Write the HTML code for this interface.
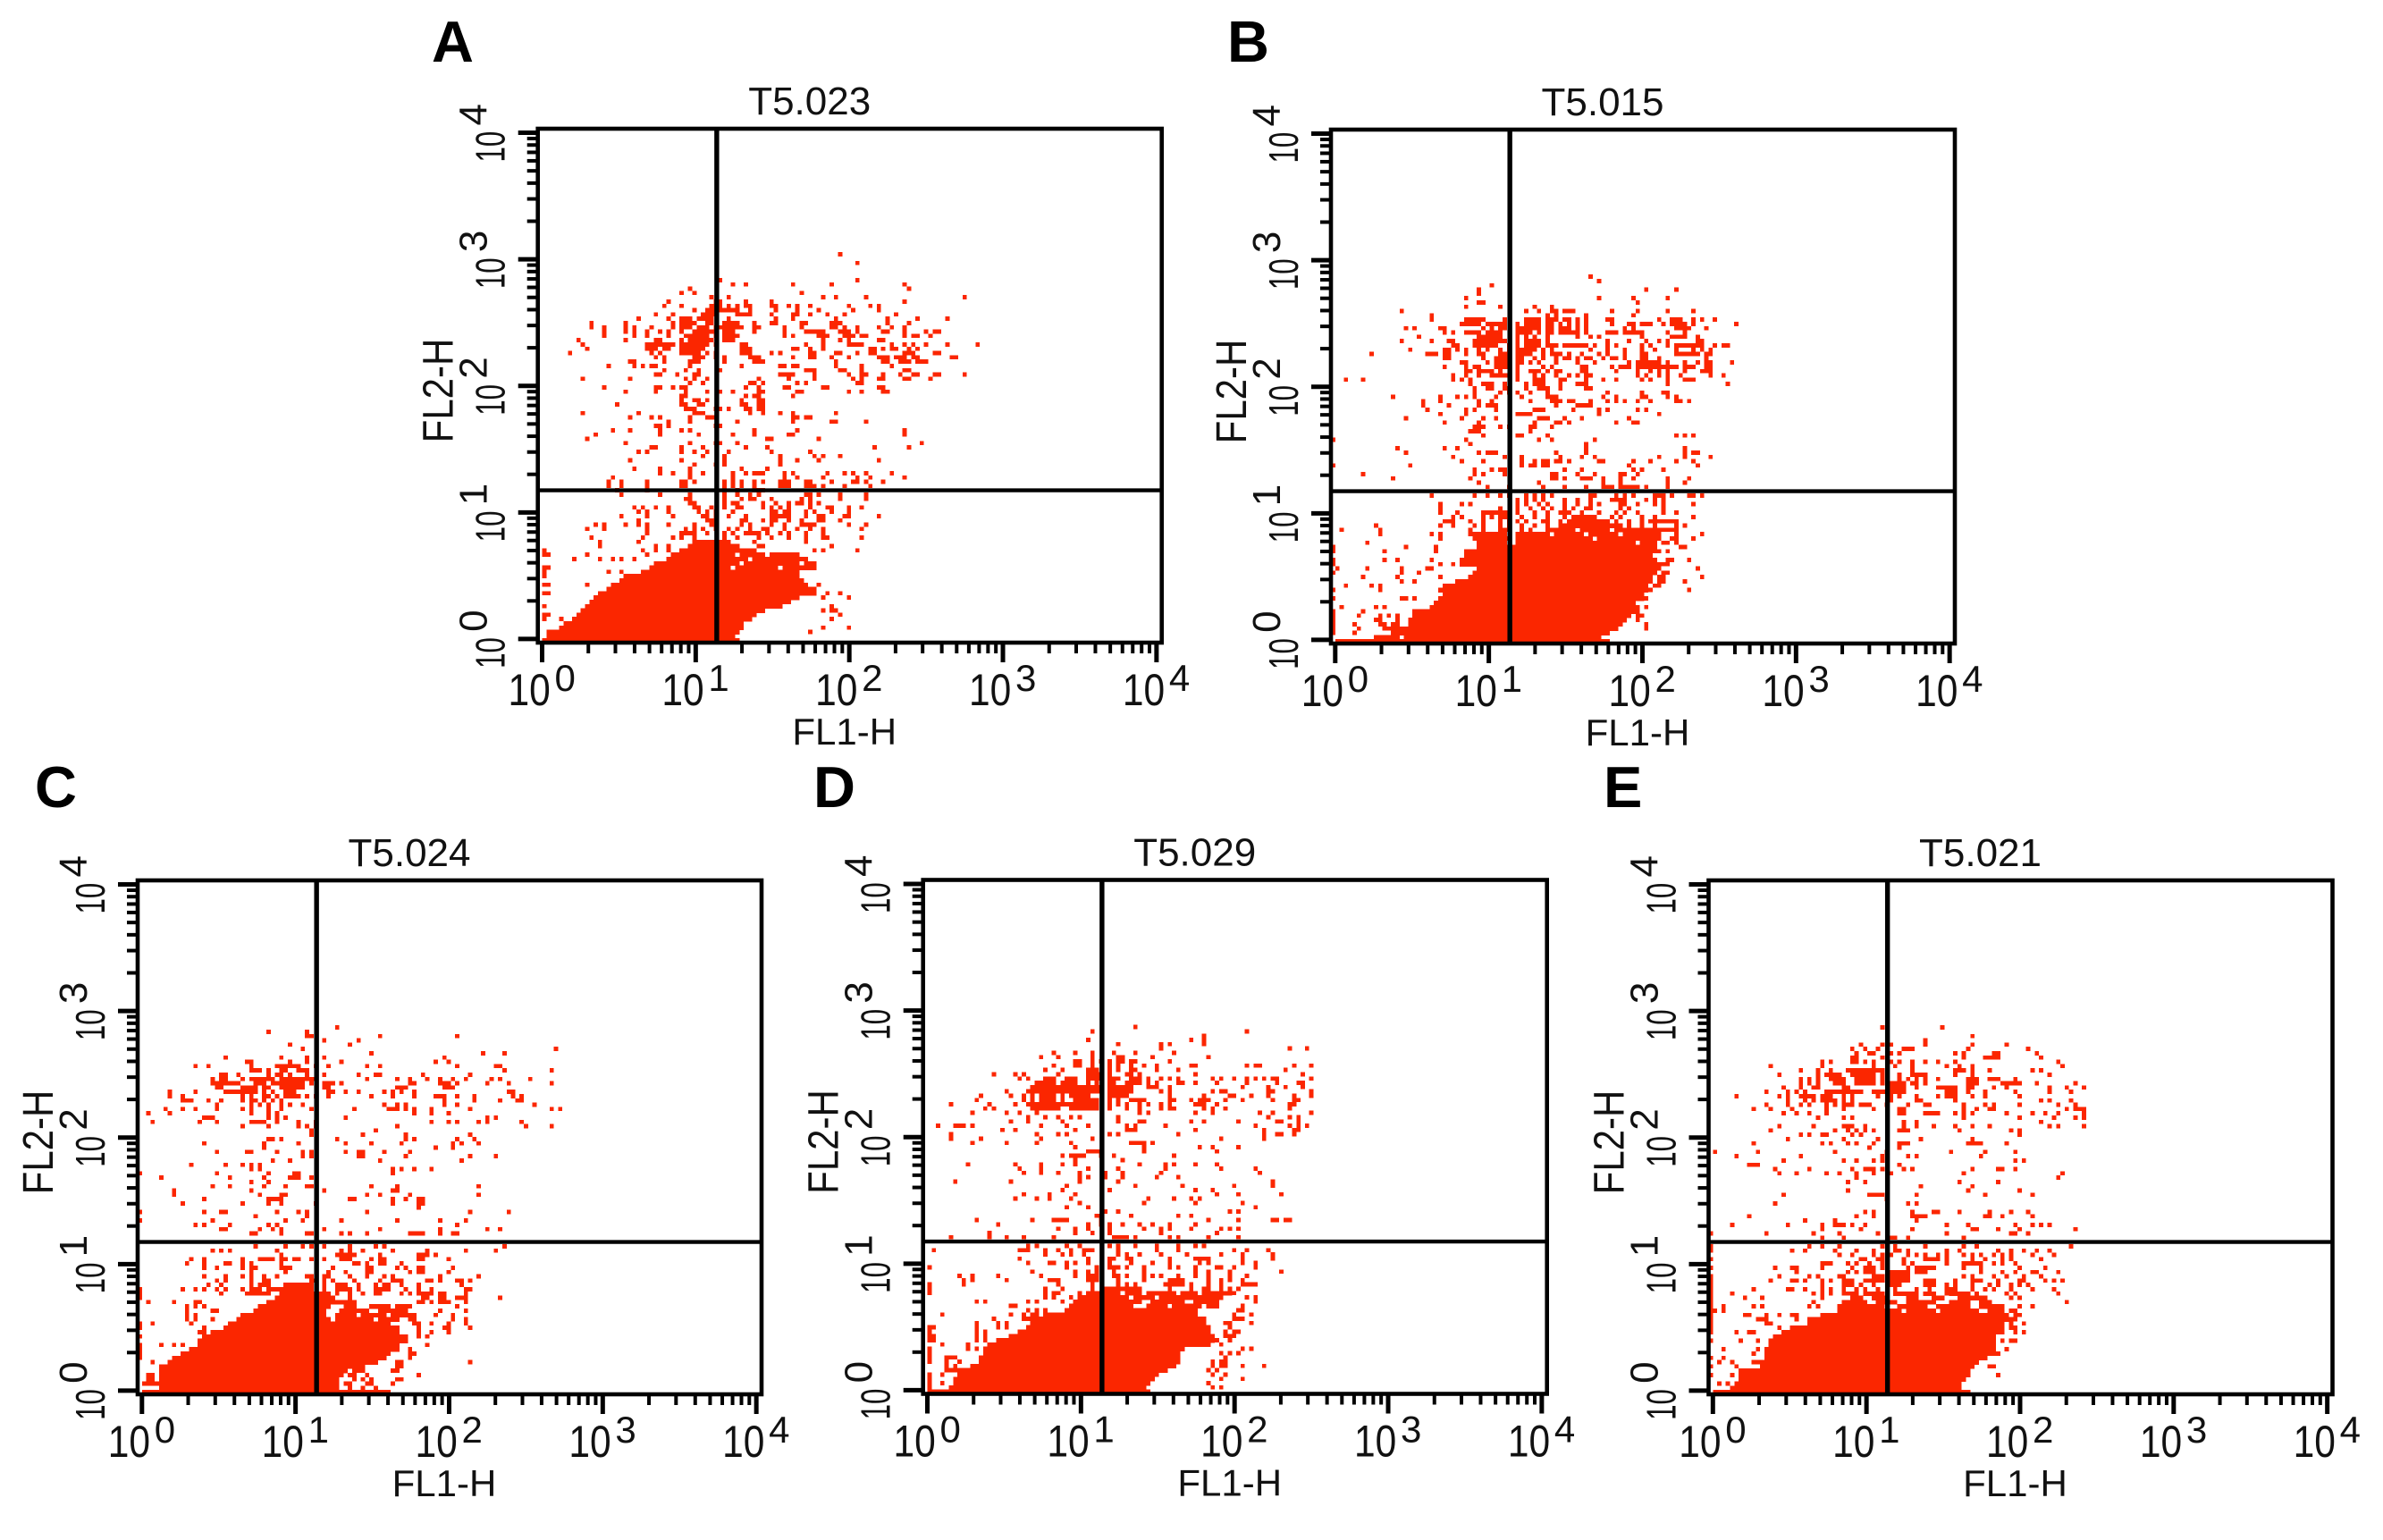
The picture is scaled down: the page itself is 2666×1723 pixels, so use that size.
<!DOCTYPE html>
<html>
<head>
<meta charset="utf-8">
<title>Flow cytometry FL1-H vs FL2-H panels</title>
<style>
html,body{margin:0;padding:0;background:#fff;}
svg{display:block;}
text{font-family:"Liberation Sans",sans-serif;fill:#111;}
</style>
</head>
<body>
<svg id="figure" xmlns="http://www.w3.org/2000/svg" width="2666" height="1723" viewBox="0 0 2666 1723"></svg>
<script>
const panelLetters = ['A','B','C','D','E'];
const panelTitles = ['T5.023','T5.015','T5.024','T5.029','T5.021'];
const decadeExponents = [0,1,2,3,4];
const minorMultipliers = [2,3,4,5,6,7,8,9];
const xAxisTitle = 'FL1-H';
const yAxisTitle = 'FL2-H';
const gateChannelX = 41.7;
const gateChannelY = 35.5;

/* Dense population: [FL2 channel, first FL1 channel, last FL1 channel] */
const denseA = [[0,1,46],[1,2,45],[2,4,46],[3,5,47],[4,6,47],[5,8,49],[6,9,50],[7,10,52],[8,11,56],[9,12,58],[10,13,60],[11,14,64],[12,16,64],[13,17,62],[14,19,61],[15,20,60],[16,24,60],[17,26,44],[17,46,55],[17,57,64],[18,27,46],[18,48,60],[18,62,64],[19,30,48],[19,50,62],[20,31,45],[20,47,52],[20,54,60],[21,33,46],[21,48,50],[22,35,46],[23,36,44]];
const denseB = [[0,1,64],[1,10,12],[1,17,62],[2,16,64],[3,17,66],[4,18,67],[5,18,68],[6,19,69],[7,19,70],[8,23,70],[9,24,70],[10,26,72],[11,26,72],[12,25,73],[13,26,73],[14,29,74],[15,32,74],[16,33,75],[17,34,75],[18,30,75],[19,30,75],[20,31,74],[21,31,74],[22,34,74],[23,34,40],[23,43,70],[23,72,74],[24,33,41],[24,43,60],[24,62,74],[25,34,40],[25,43,50],[25,52,58],[25,60,66],[25,68,72],[26,50,56],[26,58,64],[26,66,72],[27,53,66],[28,55,62]];
const denseC = [[0,1,58],[1,5,46],[2,5,46],[3,5,46],[4,5,47],[5,5,48],[6,6,52],[7,7,55],[8,8,57],[9,10,58],[10,12,60],[11,14,60],[12,14,62],[13,15,62],[14,17,60],[15,20,60],[16,21,58],[17,23,44],[17,46,54],[17,56,60],[18,24,43],[18,46,50],[18,52,57],[18,59,62],[19,27,43],[19,47,53],[19,56,62],[20,28,44],[20,48,50],[20,54,58],[20,60,62],[21,30,50],[22,32,45],[23,33,44]];
const denseD = [[0,1,52],[1,6,51],[2,7,52],[3,7,53],[4,8,54],[5,8,56],[6,11,58],[7,13,59],[8,13,59],[9,14,59],[10,14,60],[11,15,66],[12,17,67],[13,20,67],[14,22,66],[15,24,66],[16,25,65],[17,27,65],[18,28,63],[19,33,63],[20,34,48],[20,52,56],[20,58,64],[20,66,68],[21,35,50],[21,53,60],[21,63,68],[22,37,46],[22,49,52],[22,55,62],[22,64,69],[23,39,44],[23,47,50],[23,53,58],[23,61,63],[23,66,71],[24,42,50]];
const denseE = [[0,1,60],[1,5,58],[2,7,58],[3,7,59],[4,7,60],[5,7,60],[6,12,61],[7,12,62],[8,13,64],[9,13,66],[10,13,66],[11,14,66],[12,14,66],[13,15,66],[14,17,67],[15,19,67],[16,23,68],[17,24,69],[18,26,69],[19,30,44],[19,46,52],[19,54,62],[19,65,68],[20,30,40],[20,44,50],[20,53,60],[20,63,68],[21,31,36],[21,39,43],[21,46,52],[21,56,60],[21,63,65],[22,33,35],[22,38,41],[22,46,48],[22,52,54],[22,58,64],[23,36,38],[23,43,45],[23,50,52],[23,56,60]];

/* Sparse events: [FL2 channel, FL1 channel, FL1 channel, ...] */
const eventsA = [[90,70],[88,74],[84,42,74],[83,45,48,59,68,85],[82,35,86],[81,33,36,61],[80,40,44,66,69,76,99],[79,30,41,42,48,54,85],
[78,29,33,40,41,42,44,46,48,49,54,55,58,60,63,72,77,79],[77,36,39,40,41,42,43,44,45,46,49,55,60,65,73,79],[76,27,31,38,39,40,41,46,47,48,49,54,59,60,63,67,71,83],
[75,23,30,33,34,35,37,38,39,40,44,55,59,69,81,88,95],[74,12,20,31,33,34,35,36,39,40,43,44,45,46,50,54,55,61,62,68,69,70,81,86],
[73,12,15,20,22,26,31,33,34,35,37,38,39,41,42,43,44,45,46,47,50,51,57,61,68,69,71,74,79,82,85],
[72,15,20,22,25,28,30,33,36,37,38,39,40,41,43,44,45,50,57,62,63,64,65,66,70,71,72,74,80,81,85,90,92,93],
[71,15,22,25,30,34,35,36,37,38,39,41,43,44,45,46,57,59,65,66,67,71,72,73,75,76,85,87,88,91],
[70,9,20,27,28,33,35,36,37,38,39,40,43,44,45,66,70,72,79,80],
[69,10,25,26,27,28,29,30,31,33,34,35,36,37,38,39,41,47,48,62,66,72,73,74,75,82,85,87,90,95,102],
[68,11,25,26,27,29,30,33,34,35,36,37,38,47,48,49,59,60,63,66,77,78,80,82,83,86,88],
[67,7,26,28,33,34,35,36,37,39,41,47,48,49,54,56,63,64,69,70,74,77,78,85,86,87,92,93],
[66,27,29,36,37,38,41,43,49,50,51,59,63,64,68,72,79,80,81,83,84,85,87,88,96,97],
[65,21,22,29,35,36,37,43,50,51,52,69,80,81,84,85,86,88,89,90],[64,16,22,24,26,27,35,47,56,57,59,60,69,75,82],[63,29,34,37,42,62,63,64,70,71,75,85,86],
[62,27,28,32,36,37,56,57,58,59,64,72,75,76,80,84,87,88,92,93,99],[61,10,21,34,36,39,51,58,64,73,75,79,80,85,86,91],[60,35,38,49,50,52,60,62,74,75],
[59,15,27,28,31,33,34,48,51,57,58,66,67,79,80],[58,20,27,34,39,42,45,51,52,60,61,72,75,80,81],[57,33,34,48,50,51,59],[56,33,36,37,39,47,51,52],
[55,18,33,34,37,38,47,48,51,52],[54,34,35,36,41,42,44,48,49,51,52],[53,10,23,36,37,38,49,52,56,59,69],[52,21,26,28,35,39,40,41,59,60,62,63],[51,30,35,46,59,68,69,76],
[50,27,28,30,41,42],[49,17,21,28,33,35,50,60,85],[48,13,28,37,45,50,58,59,85],[47,11,53,54,65],[46,20,35,41,42,46,89],[45,26,27,33,38,48,53,78,86],
[44,23,25,33,36,39,44,54,63],[43,38,43,56,64,66,70],[42,21,33,43,56,60,65,79],[41,36,41,43,56],[40,22,28,35,47,53],[39,28,31,35,38,45,48,50,51,52,57,59,67,71,73,76,82],
[38,17,35,45,57,60,66,74,77,85],[37,16,19,25,33,34,36,43,45,47,50,52,56,57,58,62,63,68,73,74,76,80],[36,16,19,25,33,34,43,45,47,50,56,57,58,62,63,64,66,71,77],
[35,18,25,43,46,50,51,52],[34,19,28,35,43,46,49,51,62,63,65,70,76],[33,34,35,43,47,49,50,54,61,63,70,76],[32,35,36,43,45,46,52,55,58,60,61,63,65],
[31,22,24,27,30,36,37,40,43,46,47,52,54,56,58,63,67,68,72,75],[30,23,25,30,37,39,41,45,54,55,57,58,62,64,68,72],[29,19,25,31,38,39,41,44,48,54,55,56,57,58,62,65,66,71,72,79],
[28,23,39,40,41,47,48,52,54,55,58,61,65,66,70],[27,13,15,20,23,25,30,36,40,41,47,49,54,57,61,62,63,64,72,76],[26,11,15,25,34,36,38,41,44,46,49,52,53,57,60,63,66,75],
[25,25,33,34,35,36,39,43,45,48,49,50,51,53,56,58,62,66],[24,12,24,31,33,36,43,46,51,54,58,62,66,67,75],[23,14,23,50,62],[22,14,27,30,51,52,68],[21,1,24,27,30,47,64,66,74],[20,1,2,11,25],[19,8,14,17,19,22],
[17,1,2],[16,1,16,19],[15,1],[13,1,2,11,65],[11,1,2,67,70],[10,66,72],[8,1,68],[7,66,68,69],[6,1,2,70],[5,1,5,68],[3,66,72],[2,2,3,63]];

const eventsB = [[85,60],[84,62],[83,37],[82,34,73,80],[81,34],[80,31,62,70,78],[79,34,35,71],[78,31,39,47,51],[77,16,45,48,51,52,54,55,56,65,71,78,84],[76,23,50,52,59,70],
[75,23,31,32,33,34,35,40,45,46,47,48,50,51,52,54,55,57,59,64,65,76,79,80,81,84,86,89],
[74,30,31,32,33,34,36,37,38,39,40,43,45,46,47,48,50,51,53,55,57,59,65,69,70,72,73,74,77,79,80,81,82,84,94],
[73,17,19,25,26,35,37,39,40,43,44,45,46,47,48,50,51,53,54,55,57,59,68,70,80,81,82,83,87],
[72,26,28,31,32,33,34,36,37,38,39,43,44,45,46,48,50,51,53,54,55,56,57,59,64,65,66,68,69,70,71,72,78,82],
[71,20,34,35,36,37,38,39,43,45,47,50,57,60,62,72,79,80,81,82,85],
[70,16,23,27,28,33,34,35,36,37,38,39,40,43,45,46,47,48,50,64,69,73,76,78,85,86],
[69,28,29,33,34,35,36,37,38,41,43,45,46,47,48,50,51,52,54,55,56,57,58,59,61,64,66,72,74,78,80,81,82,83,84,85,86,89,91,92],
[68,18,26,27,29,31,34,36,39,41,43,44,45,46,47,49,51,60,64,68,72,75,80,84,86,88],
[67,9,22,23,24,26,27,31,34,35,39,40,41,43,44,45,46,49,51,52,53,55,58,62,64,68,72,73,80,81,82,83,84,85,87,88],
[66,26,27,35,38,39,40,41,43,44,47,49,52,54,55,57,59,60,63,65,66,68,72,73,76,87],
[65,30,31,36,38,39,40,41,43,44,46,48,52,57,61,69,71,72,73,74,75,76,78,82,85,87,88,93],
[64,26,31,33,34,38,39,40,41,43,49,51,58,59,65,67,68,69,71,72,73,74,75,76,77,78,79,80,82,83,84,87,88],
[63,31,32,34,35,36,37,39,43,46,47,48,50,52,53,58,59,66,71,74,76,78,82,86,87,88],
[62,28,31,34,37,38,39,40,41,43,47,49,52,55,57,59,60,71,73,76,78,81,88,91],
[61,3,7,28,30,32,43,47,48,49,53,54,59,63,66,72,74,78,82,83,84],[60,32,35,36,37,40,45,47,48,49,53,57,58,59,78,92],[59,33,36,37,40,41,45,48,49,50,53,59,60],
[58,33,39,41,43,46,50,64,72,77,78],[57,14,25,29,31,33,38,44,50,51,52,63,66,72,73,78,80],[56,21,25,34,37,46,51,52,53,55,56,60,64,66,68,71,74,80,81,83],
[55,21,27,34,36,37,38,52,57,58,59,60],[54,22,31,33,38,47,48,49,56,62,64,71,73],[53,25,31,43,44,45,46,62,76],[52,17,30,35,38,48,49,50,54,58,69],[51,26,34,47,52,53,55,66,70,71],
[50,33,34,35,39,41,46,47,51],[49,32,33,34,46],[48,35,43,44,50,80,82,84],[47,0,31,48,51,61],[46,32,59],[45,15,26,29,59,82],[44,17,34,36,37,38,52,59,82,84,85],
[43,28,40,44,53,58,61,76,82,88],[42,30,35,44,47,49,50,52,53,55,62,63,70,74,80,84],[41,0,18,44,46,47,49,50,69,85],[40,33,37,39,40,54,58,70,72,77],
[39,7,33,35,40,51,52,57,61,67,68,71],[38,14,32,51,52,54,58,59,60,63,67,70,78,83],[37,34,48,63,67,78,82],[36,36,41,49,54,59,63,64,65,67,68,69,70,71,73,78],
[34,23,33,36,39,41,45,47,49,51,60,61,66,68,70,75,76,77,79,83,84,86],[33,43,45,47,49,54,57,60,65,66,67,68,73,75,77],[32,25,30,32,43,45,48,50,54,57,60,62,67,68,71,75,77,84],
[31,25,39,43,46,49,51,54,56,59,60,67,69,77],[30,25,29,35,36,37,38,39,40,41,43,47,50,53,54,55,58,62,66,68,71,77,80],[29,28,30,35,37,39,40,41,44,47,50,54,56,57,58,59,60,61,65,67,72,75,84],
[28,26,27,28,32,35,39,41,43,45,49,50,53,55,56,57,58,59,60,61,62,63,64,66,69,72,74,75,76,77,78,79,80],[27,10,25,28,33,35,39,41,44,47,50,54,67,69,72,75,80,82],
[26,2,11,32,35,39,40,41,44,46,73,74,75,76,77,78,79,80],[25,11,23,25,32,33,73,74,75,76,80,86],[24,25,75,76,79,80,84],[23,8,75,77,78,80],[22,0,17,24,75,81,82],[21,0,12,24,75,76,78],
[19,0,12,15,23,78,79,83],[18,0,25,28,76,77,78],[17,1,8,16,22,23,76,85],[16,0,16,20,77,78],[15,7,15,25,76,77,86],[14,16,19,76,77,82],[13,3,9,11,75,76],[12,0,11,73,74,83],
[10,0,16,17,19,25,70,71,73],[8,2,10,12,71,73],[7,0,7,71],[6,0,6,11,13,15,71,72],[5,0,10,11,15,71],[4,0,5,11,12,14,15,73],[3,0,6,12,13,14,15,16,73],[2,0,5,14,15,16],[1,13,14,15]];

const eventsC = [[85,46],[84,30,39],[83,39,40,56,74],[82,43,51],[81,35,49],[80,38,97],[79,54,80,85],[78,20,33,39,43,71],[77,25,26,35,39,47,69,72],
[76,13,16,26,32,33,34,35,36,37,41,44,53,56,74,83,84],[75,26,27,28,30,33,34,37,38,39,85,96],[74,19,20,23,30,32,33,35,39,43,51,55,56,66,77],
[73,17,19,20,24,26,27,28,29,30,31,33,34,35,36,37,38,39,40,41,53,60,63,67,70,73,76,82,84,91],
[72,17,18,19,20,21,22,23,27,28,29,31,32,33,34,35,36,37,38,40,43,44,45,47,63,64,70,71,72,74,81,86,96],
[71,18,19,24,25,26,27,29,30,33,34,35,36,37,38,43,44,60,61,62,71,72,73],[70,7,13,20,21,22,23,24,25,26,27,29,31,34,35,36,44,45,48,51,57,59,61,64,86,87],
[69,7,10,24,26,29,30,32,34,35,36,37,39,41,44,54,59,64,69,70,71,74,78,87,89],[68,10,11,12,16,19,24,26,27,29,31,33,71,78,84,88,89],[67,18,26,28,30,33,35,38,57,60,62,71,74,92],
[66,6,10,13,18,24,26,30,33,40,50,58,59,60,62,64,68,77,96,98],[65,2,7,26,30,32,64,68,72],[64,15,16,17,30,32,34,48,81,83],[63,3,14,18,26,27,28,29,32,37,41,68,72,74,79,81,89],
[62,24,30,37,39,41,60,90,96],[61,40,55],[60,40,52,62,77],[59,30,31,33,46,62,64,74,78],[58,15,29,37,48,54,61,73,75,79],[57,29,69,73],[56,18,25,26,32,38,40,48,51,52,57,63],
[55,38,40,51,52,62,77,83],[54,31,35,75,56],[53,12,20,24,26,28],[52,26,28,59,61,64,68],[51,0,18,30,36,37,59],[50,5,21,29,35,36,37,40],[49,26,30],[48,17,21,29,34,39,40,54,60,79],
[47,8,26,43,59,60],[46,8,28,33,34,53,56,63,79],[45,15,30,31,32,33,49,50,59,62,65,66],[44,10,24,30,33,41,59,65,66],[43,65],[42,0,15,19,20,32,37,39,53,77,86],[41,27,39],
[40,0,17,34,38,47,60,70,76],[39,13,15,21,30,32,74],[38,19,20,28,31,33,43,56,70,81,84],[37,26,27,33,39,40,47,49,53,63,64,65,66,70,73,74],
[34,27,34,38,40,43,49,55,57,85],[33,17,19,21,32,47,49,52,59,67,76,83],[32,33,46,47,48,49,50,56,65,66,67,69],[31,12,15,24,28,29,30,31,33,34,36,37,40,43,47,48,49,54,56,57,65,66,72],
[30,11,15,20,21,24,26,33,50,51,53,56,57,61],[29,15,18,24,26,27,33,34,35,45,53,54,60,62,65,66,73],[28,26,34,44,48,53,54,63,65,66,72],[27,15,20,24,26,29,32,39,40,43,44,49,53,57,59,70,79],
[26,18,20,26,29,30,40,41,43,45,50,56,59,60,61,67,68,70,74,75,77],[25,16,19,26,28,29,30,34,35,36,37,38,39,40,43,46,47,48,51,55,57,58,61,65,75],
[24,0,10,13,15,18,20,24,26,27,28,30,31,32,33,34,35,36,37,38,39,40,43,46,47,48,49,51,55,56,57,58,62,65,68,76,77],[23,0,19,25,26,27,28,29,30,43,46,49,52,55,56,61,63,65,66,67,68,70,71,76],
[22,0,43,49,66,67,70,71,74,75,76,84],[21,2,8,13,14,47,65,66,68,70,71,72,76],[20,11,13,15,54,55,58,63,74],[19,11,17,18,70,76],[18,11,13,69,73,63,64],[17,11,13,17,63,64,73,76],[16,0,3,12,64,65,68,72,76],
[15,0,15,65,71,72,77],[14,15,14,65,68,72],[13,0,60,61,62,65,67],[11,0,5,8,10,67],[10,0,13,13,63],[9,0,63,64],[8,0,63],[7,3,60,61,77],[6,5,60,61],[5,5,59,60,50,51,52],[4,2,3,65,49,50,53],[3,2,3,60,61,50,52,54],[2,1,2,3,4,59,48,49,53,54],[1,49,52,55]];

const eventsD = [[85,49],[84,39,75],[83,65],[82,38,62,65],[81,45,55,57,65],[80,55,85,89],[79,30,35,39,44,49,58],[78,27,31,39,45,46,53,66],[77,35,36,39,41,43,45,46,48,49,57],
[76,30,35,36,39,43,45,48,51,54,62,63,75,77,78,86,90],[75,28,32,38,39,40,43,45,48,49,54,59,84],[74,16,21,23,31,38,39,40,41,43,47,48,50,63,88],
[73,22,24,28,29,30,33,34,35,38,39,40,41,43,44,45,48,49,50,52,55,57,59,67,69,72,75,77,79,81,82,90],
[72,26,27,28,29,30,32,33,34,35,38,40,43,44,47,48,49,50,52,54,59,60,63,68,75,82,87,88],
[71,25,26,27,28,29,30,31,32,33,34,35,36,37,38,39,40,41,43,44,45,46,47,48,52,53,54,57,74,80,84,88],[70,19,24,25,26,27,28,29,30,31,32,33,34,35,36,37,38,39,40,41,43,44,45,46,47,48,55,57,67,69,70,80,81,90],
[69,13,20,23,25,27,28,29,30,32,34,35,36,37,38,43,44,45,46,47,57,65,71,72,76,80,86,90],[68,12,23,25,27,28,29,30,32,35,36,37,38,39,40,43,45,48,49,50,51,57,58,62,64,65,66,70,74,81,86,87],
[67,6,15,21,24,25,26,27,28,29,30,31,32,33,34,35,36,37,38,39,40,43,45,47,50,52,55,57,63,64,65,68,85,86],[66,14,16,25,26,27,28,29,30,31,34,35,36,37,38,39,40,43,47,50,55,57,58,65,67,70,85],
[65,11,19,22,26,50,52,63,67,78,81,90],[64,24,28,31,34,36,45,80,85,87],[63,20,24,32,50,51,45,62,65,73,82,83,87],[62,3,7,8,9,11,27,33,38,47,49,56,77,85,87,89],[61,18,21,35,47,48,49,63,79,86,87],
[60,6,26,31,33,43,45,59,79,82,83,86],[59,6,13,27,39,69,79],[58,11,19,26,34,48,49,50,51,53],[57,35,51,64,67,73],[56,38,39,40,41,51,68],[55,32,34,35,36,37,41,44,58],[54,35,46],
[53,10,21,27,32,35,50,56,58,63,68],[52,22,27,38,45,56,69,77],[51,23,27,31,36,42,46,55,78],[50,36,38,42,46,54,59],[49,7,20,36,45,81],[48,33,49,60,72,81],[47,32,43,63,67],[46,23,29,35,68,73,83],
[45,21,26,29,34,52,58,62,64],[44,36,51,63,74],[43,38,33,77],[42,42,45,71,73],[41,40,41,48,59,62],[40,12,25,30,31,32,33,41,66,73,81,82,84,85],[39,17,38,41,43,46,50,53,57,63],
[38,31,35,38,43,51,55,57,62,69,71,73],[37,15,35,39,43,55,68],[36,6,15,19,23,30,44,45,46,47,49,57,59,66,73],
[34,24,26,33,36,43,45,49,54,59,63,65],[33,2,22,23,24,28,31,34,37,38,39,45,54,59,72,75,80],[32,28,32,34,37,45,47,50,55,61,69,74,81],[31,22,38,43,44,47,48,57,63,64,65,66,74,81],
[30,24,29,30,33,35,38,43,48,53,57,64,66,74,77],[29,1,33,40,43,44,45,47,51,57,59,63,68,69,72,77],[28,25,35,38,40,44,51,63,66,71,83],[27,8,11,17,27,35,38,39,40,44,45,47,51,53,55,59,63,66,71,75],
[26,9,11,19,29,30,31,38,39,40,45,51,57,58,59,60,66,69,71,74],[25,1,9,31,39,45,47,49,56,57,58,59,60,62,66,69,74,75,76,77],[24,1,28,32,39,43,45,46,47,57,62,65,66,69,71,73],[23,1,28,30,31,36,38,45,52,60,65,72],
[22,28,30,34,36,47,53,63,75,77],[21,12,14,24,26,32,77],[20,20,21,74],[19,24,26,28,73,74],[18,4,20,23,25,26,72,76],[17,16,23,24,25,26,72,73,74],
[16,12,17,19,70,71,76],[15,1,2,12,17,19,71],[14,1,12,14,70,72,73],[13,1,2,12,14,67,70,71,72],[12,1,2,12,14,17,20,68,71],[11,4,10,69],[10,1,10,12,74,76],[9,1,69,71,73],[8,1,5,6,7,70],[7,1,5,8,67,69,70],
[6,5,7,67,69,70,74,79],[5,5,6,7,66,68],[4,1,4,67,70],[3,1,69,74],[2,1,4,66],[1,1,67,69]];

const eventsE = [[85,40,54],[83,61],[82,50],[81,35,40,42,50,61,69],[80,33,36,39,45,46,47,60,74],[79,34,37,38,42,44,57,59,66,67,76],[78,33,34,40,59,64,65,66,67,77],
[77,26,28,33,34,36,38,42,44,47,50,53,57,81],[76,14,26,38,43,47,55,58,61,82],[75,21,25,28,32,33,34,35,36,37,38,39,40,47,57,58,59,61,65,75,77],
[74,16,25,27,28,29,30,33,34,35,36,37,38,40,44,47,48,49,50,57,61,79],[73,21,23,25,28,29,30,31,34,35,36,37,38,40,44,46,48,50,53,60,61,62,65,66,67,71],
[72,21,23,25,29,30,31,34,35,36,37,38,40,42,43,44,45,47,48,50,60,61,62,68,69,70,71,72,76,85],[71,17,21,24,25,31,32,42,43,44,45,48,53,54,55,56,57,60,61,66,69,79,83,87],
[70,13,18,20,22,27,28,29,30,31,32,33,34,35,38,39,40,41,42,43,44,45,55,56,57,60,64,71,79,84],[69,6,16,18,21,22,23,24,26,27,28,31,33,39,42,44,48,53,55,56,57,61,64,72],
[68,18,22,24,26,27,28,29,31,33,42,48,49,57,77,79,84],[67,13,18,21,23,27,29,31,32,33,35,36,37,41,46,50,51,59,64,66,72,81,85],[66,10,14,19,27,31,38,44,45,59,62,65,66,83,85,86,87],
[65,17,20,23,27,44,45,50,51,52,53,57,59,61,69,75,78,81,87],[64,25,31,33,59,72,80,85,87],[63,45,48,77],[62,16,24,31,32,33,36,45,48,52,57,61,65,81,79,87],[61,14,29,32,34,36,38,44,45,46,58,70,72],
[60,21,23,26,27,33,35,72],[59,18,31,39,49,61],[58,10,26,28,32,34,38,44,45,46,60,61,62,63,69],[57,37,44],[56,1,11,29,41,56,64,71],[55,6,21,40,46,48,63],[54,17,31,34,38,40,71,73],[53,9,10,11,44],
[52,15,23,33,36,37,38,40,45,47,61,67,68,71],[51,16,20,27,30,34,38,42,59,82],[50,34,81],[49,32,36,58,67],[48,49,61],[47,32,60,72],[46,17,37,38,39,40,48,64,75],[45,41],[44,15,46,48],
[42,36,38,47,52,53,58,65,70,74],[41,9,34,38,47,48,49,50,64,65,68,75],[40,22,29,48],[39,5,18,26,29,30,31,33,36,55,60,71,75,77,79],[38,26,35,47,61,62,67,72,85],[37,0,13,24,30,39,55,70,71,74],[36,26,31,42,43,46,59],
[34,0,23,26,30,40,43,50,59,62,84],[33,0,19,22,29,34,38,43,44,46,55,58,67,70,73,76,79],[32,30,33,38,40,42,46,48,50,53,55,59,61,63,66,68,70,75,80],[31,0,35,36,39,40,45,50,51,52,53,55,61,64,68,70,77],
[30,26,27,28,32,34,37,40,45,47,55,59,60,61,62,63,66,68,71],[29,0,15,19,20,26,33,36,37,38,40,46,48,49,50,51,52,59,63,72,78],[28,20,32,34,36,37,38,42,43,44,45,46,48,49,50,63,68,71,75,76,81],
[27,0,16,23,25,30,31,38,39,40,42,43,44,45,46,59,61,66,69,73,77],[26,0,14,19,20,22,26,28,31,32,33,36,37,38,39,40,42,43,44,45,46,50,51,52,57,61,62,63,67,72,73,78,80,82],[25,0,26,31,32,33,35,38,42,43,44,50,51,52,55,57,61,65,67,70,72,74],
[24,0,10,18,19,22,26,28,31,34,36,39,43,48,51,55,56,57,61,64,66,70,75,80],[23,0,5,24,26,28,31,32,33,34,39,40,43,46,47,48,55,62,69,71,81],[22,0,8,12,26,70,72],[21,0,24,83],[20,0,3,10,12,23,25,72,75],
[19,0,1,3,70,71],[18,0,8,9,13,16,19,20,71,72],[17,0,11,12,13,20,23,70,71],[16,0,13,14,70,73],[15,0,16,68,70,71],[14,0,6,9,10,68,71,73],[12,0,7,11,68,70,71],[10,3,11,69],[9,10,13,67],[8,0,3],[7,2,5,10,11],[6,0,6,65,66],[4,0,5,67],[2,2,4,6]];

const denseByPanel = [denseA,denseB,denseC,denseD,denseE];
const eventsByPanel = [eventsA,eventsB,eventsC,eventsD,eventsE];

const layout = {
  lefts:[601.7,1489,154,1032.7,1911.5],
  bottoms:[719,720,1560,1559.5,1560],
  width:698, height:575, cell:4.8,
  letterX:[483,1373,39,910,1794], letterY:[69,69,903,903,903],
  tickOriginX:1, decadeX:35.8, tickOriginY:0.85, decadeY:29.5
};
const NS = 'http://www.w3.org/2000/svg';
const figure = document.getElementById('figure');

function make(tag, attrs, parent, content){
  const node = document.createElementNS(NS, tag);
  for(const k in attrs){ node.setAttribute(k, attrs[k]); }
  if(content !== undefined){ node.textContent = content; }
  parent.appendChild(node);
  return node;
}
function xScale(p, channel){ return layout.lefts[p] + channel * layout.cell; }
function yScale(p, channel){ return layout.bottoms[p] - channel * layout.cell; }
function xOfValue(p, logValue){ return xScale(p, layout.tickOriginX + logValue * layout.decadeX); }
function yOfValue(p, logValue){ return yScale(p, layout.tickOriginY + logValue * layout.decadeY); }

panelLetters.forEach(function(letter, p){
  const L = layout.lefts[p], B = layout.bottoms[p], W = layout.width, H = layout.height, T = B - H;
  const panel = make('g', {}, figure);
  
  

  const label = make('text', {x:layout.letterX[p], y:layout.letterY[p], 'font-size':65, 'font-weight':'bold', style:'fill:#000'}, panel, letter);
  
  

  const title = make('text', {x:L+304, y:B-591, 'font-size':44, 'text-anchor':'middle'}, panel, panelTitles[p]);
  
  

  const cells = make('g', {fill:'#fb2600', 'shape-rendering':'crispEdges'}, panel);
  
  
  denseByPanel[p].forEach(function(run){
    const x1 = xScale(p, run[1]), x2 = xScale(p, run[2] + 1);
    const y1 = yScale(p, run[0] + 1), y2 = yScale(p, run[0]);
    const bar = make('rect', {x:x1, y:y1, width:x2-x1, height:y2-y1+0.4}, cells);
    
    
  });
  eventsByPanel[p].forEach(function(row){
    for(let i = 1; i < row.length; i++){
      const x1 = xScale(p, row[i]), x2 = xScale(p, row[i] + 1);
      const y1 = yScale(p, row[0] + 1), y2 = yScale(p, row[0]);
      const dot = make('rect', {x:x1, y:y1, width:x2-x1, height:y2-y1}, cells);
      
      
    }
  });

  const frame = make('rect', {x:L, y:T, width:W, height:H, fill:'none', stroke:'#000', 'stroke-width':4.6}, panel);
  
  

  const gateV = make('line', {x1:xScale(p, gateChannelX), x2:xScale(p, gateChannelX), y1:T+2, y2:B, stroke:'#000', 'stroke-width':5.4}, panel);
  
  
  const gateH = make('line', {x1:L, x2:L+W, y1:yScale(p, gateChannelY), y2:yScale(p, gateChannelY), stroke:'#000', 'stroke-width':4.4}, panel);
  
  

  const ticks = make('g', {stroke:'#000', 'stroke-width':4}, panel);
  
  
  decadeExponents.forEach(function(exp){
    const xPos = xOfValue(p, exp), yPos = yOfValue(p, exp);
    const xMajor = make('line', {x1:xPos, x2:xPos, y1:B+2, y2:B+22, 'stroke-width':5}, ticks);
    
    
    const yMajor = make('line', {x1:L-2, x2:L-22, y1:yPos, y2:yPos, 'stroke-width':5}, ticks);
    
    

    const xLabel = make('text', {transform:'translate(' + (xPos-38) + ',' + (B+70) + ') scale(0.85,1)', 'font-size':50}, panel, '10');
    
    
    const xExp = make('text', {x:xPos+14, y:B+54, 'font-size':42}, panel, String(exp));
    
    

    const yLabel = make('text', {transform:'translate(' + (L-37) + ',' + (yPos+33) + ') rotate(-90) scale(0.68,1)', 'font-size':46}, panel, '10');
    
    
    const yExp = make('text', {transform:'translate(' + (L-57) + ',' + (yPos-8) + ') rotate(-90)', 'font-size':44}, panel, String(exp));
    
    

    if(exp < decadeExponents[decadeExponents.length-1]){
      minorMultipliers.forEach(function(m){
        const xm = xOfValue(p, exp + Math.log10(m)), ym = yOfValue(p, exp + Math.log10(m));
        const xMinor = make('line', {x1:xm, x2:xm, y1:B+2, y2:B+12}, ticks);
        
        
        const yMinor = make('line', {x1:L-2, x2:L-12, y1:ym, y2:ym}, ticks);
        
        
      });
    }
  });

  const xTitle = make('text', {x:L+343, y:B+114, 'font-size':42, 'text-anchor':'middle'}, panel, xAxisTitle);
  
  
  const yTitle = make('text', {transform:'translate(' + (L-95) + ',' + (B-282) + ') rotate(-90) scale(0.875,1)', 'font-size':48, 'text-anchor':'middle'}, panel, yAxisTitle);
  
  
});
</script>
</body>
</html>
